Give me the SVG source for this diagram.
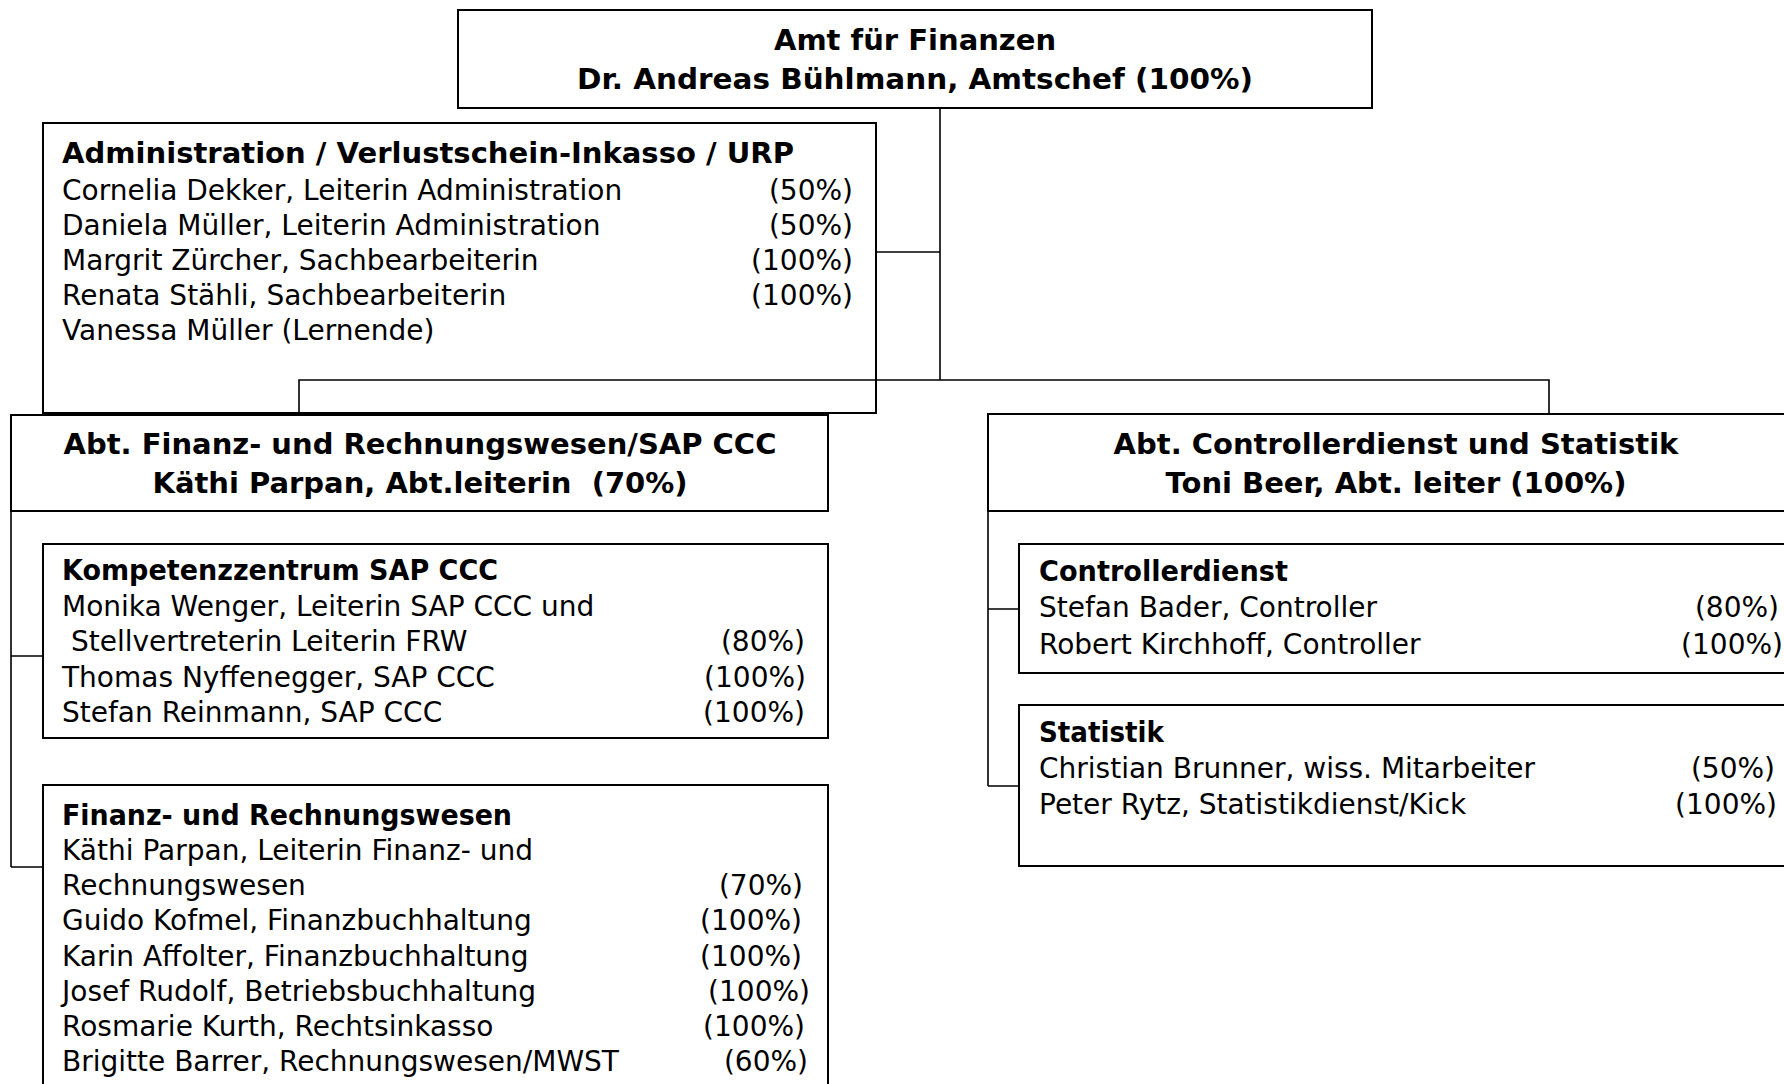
<svg xmlns="http://www.w3.org/2000/svg" width="1784" height="1084" viewBox="0 0 1784 1084">
<style>
  .box { fill: none; stroke: #000; stroke-width: 2; }
  .con { fill: none; stroke: #000; stroke-width: 1.6; }
  text { font-family: "DejaVu Sans", "Liberation Sans", sans-serif; fill: #000; }
  .t { font-size: 28px; font-weight: bold; }
  .h { font-size: 29px; font-weight: bold; text-anchor: middle; }
  .b { font-size: 28px; }
  .p { font-size: 28px; text-anchor: end; }
</style>
<rect width="1784" height="1084" fill="#fff"/>

<g id="connectors">
  <path class="con" d="M940,108 V380"/>
  <path class="con" d="M876,252 H940"/>
  <path class="con" d="M299,415 V380 H1549 V414"/>
  <path class="con" d="M11,511 V867 M11,656 H43 M11,867 H43"/>
  <path class="con" d="M988,511 V786 M988,609 H1019 M988,786 H1019"/>
</g>

<g id="amt">
  <rect class="box" x="458" y="10" width="914" height="98"/>
  <text class="h" x="915" y="50">Amt für Finanzen</text>
  <text class="h" x="915" y="89" textLength="676" lengthAdjust="spacingAndGlyphs">Dr. Andreas Bühlmann, Amtschef (100%)</text>
</g>

<g id="administration">
  <rect class="box" x="43" y="123" width="833" height="290"/>
  <text class="t" x="62" y="163" textLength="732" lengthAdjust="spacingAndGlyphs">Administration / Verlustschein-Inkasso / URP</text>
  <text class="b" x="62" y="200">Cornelia Dekker, Leiterin Administration</text>
  <text class="p" x="853" y="200">(50%)</text>
  <text class="b" x="62" y="235">Daniela Müller, Leiterin Administration</text>
  <text class="p" x="853" y="235">(50%)</text>
  <text class="b" x="62" y="270">Margrit Zürcher, Sachbearbeiterin</text>
  <text class="p" x="853" y="270">(100%)</text>
  <text class="b" x="62" y="305">Renata Stähli, Sachbearbeiterin</text>
  <text class="p" x="853" y="305">(100%)</text>
  <text class="b" x="62" y="340">Vanessa Müller (Lernende)</text>
</g>

<g id="abt-frw">
  <rect class="box" x="11" y="415" width="817" height="96"/>
  <text class="h" x="420" y="454">Abt. Finanz- und Rechnungswesen/SAP CCC</text>
  <text class="h" x="420" y="493" xml:space="preserve">Käthi Parpan, Abt.leiterin  (70%)</text>
</g>

<g id="abt-cs">
  <rect class="box" x="988" y="414" width="820" height="97"/>
  <text class="h" x="1396" y="454">Abt. Controllerdienst und Statistik</text>
  <text class="h" x="1396" y="493">Toni Beer, Abt. leiter (100%)</text>
</g>

<g id="sap-ccc">
  <rect class="box" x="43" y="544" width="785" height="194"/>
  <text class="t" x="62" y="580" textLength="436" lengthAdjust="spacingAndGlyphs">Kompetenzzentrum SAP CCC</text>
  <text class="b" x="62" y="616">Monika Wenger, Leiterin SAP CCC und</text>
  <text class="b" x="71" y="651">Stellvertreterin Leiterin FRW</text>
  <text class="p" x="805" y="651">(80%)</text>
  <text class="b" x="62" y="687">Thomas Nyffenegger, SAP CCC</text>
  <text class="p" x="806" y="687">(100%)</text>
  <text class="b" x="62" y="722">Stefan Reinmann, SAP CCC</text>
  <text class="p" x="805" y="722">(100%)</text>
</g>

<g id="frw">
  <rect class="box" x="43" y="785" width="785" height="320"/>
  <text class="t" x="62" y="825" textLength="450" lengthAdjust="spacingAndGlyphs">Finanz- und Rechnungswesen</text>
  <text class="b" x="62" y="860">Käthi Parpan, Leiterin Finanz- und</text>
  <text class="b" x="62" y="895">Rechnungswesen</text>
  <text class="p" x="803" y="895">(70%)</text>
  <text class="b" x="62" y="930">Guido Kofmel, Finanzbuchhaltung</text>
  <text class="p" x="802" y="930">(100%)</text>
  <text class="b" x="62" y="966">Karin Affolter, Finanzbuchhaltung</text>
  <text class="p" x="802" y="966">(100%)</text>
  <text class="b" x="62" y="1001">Josef Rudolf, Betriebsbuchhaltung</text>
  <text class="p" x="810" y="1001">(100%)</text>
  <text class="b" x="62" y="1036">Rosmarie Kurth, Rechtsinkasso</text>
  <text class="p" x="805" y="1036">(100%)</text>
  <text class="b" x="62" y="1071">Brigitte Barrer, Rechnungswesen/MWST</text>
  <text class="p" x="808" y="1071">(60%)</text>
</g>

<g id="controllerdienst">
  <rect class="box" x="1019" y="544" width="800" height="129"/>
  <text class="t" x="1039" y="581" textLength="249" lengthAdjust="spacingAndGlyphs">Controllerdienst</text>
  <text class="b" x="1039" y="617">Stefan Bader, Controller</text>
  <text class="p" x="1779" y="617">(80%)</text>
  <text class="b" x="1039" y="654">Robert Kirchhoff, Controller</text>
  <text class="p" x="1783" y="654">(100%)</text>
</g>

<g id="statistik">
  <rect class="box" x="1019" y="705" width="800" height="161"/>
  <text class="t" x="1039" y="742" textLength="125" lengthAdjust="spacingAndGlyphs">Statistik</text>
  <text class="b" x="1039" y="778">Christian Brunner, wiss. Mitarbeiter</text>
  <text class="p" x="1775" y="778">(50%)</text>
  <text class="b" x="1039" y="814">Peter Rytz, Statistikdienst/Kick</text>
  <text class="p" x="1777" y="814">(100%)</text>
</g>
</svg>
